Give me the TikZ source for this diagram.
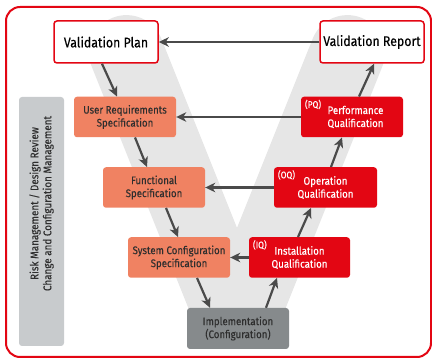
\documentclass[tikz,border=0pt]{standalone}
\usepackage{fontspec}
\setmainfont[FakeStretch=0.88,FakeBold=0.2]{Fira Sans}
\usetikzlibrary{arrows.meta,calc}
\definecolor{vred}{HTML}{E30613}
\definecolor{salmon}{HTML}{F08262}
\definecolor{implgray}{HTML}{868A8C}
\definecolor{sidegray}{HTML}{C8CBCD}
\definecolor{vband}{HTML}{E6E6E6}
\definecolor{arrowgray}{HTML}{4A4A4A}
\definecolor{txtdark}{HTML}{2E2E2E}
\begin{document}
\begin{tikzpicture}[x=1pt,y=-1pt,
  box/.style={rounded corners=3pt, inner sep=0pt, align=center, font=\fontsize{11}{13}\selectfont},
  whitebox/.style={box, draw=vred, line width=1.5pt, fill=white, font=\fontsize{14}{16}\selectfont, text=black, minimum width=104pt, minimum height=42pt},
  specbox/.style={box, fill=salmon, text=txtdark, minimum width=102pt, minimum height=40.5pt},
  qualbox/.style={box, fill=vred, text=white, minimum width=102pt, minimum height=40.5pt},
  implbox/.style={box, fill=implgray, text=txtdark, minimum width=102pt, minimum height=41pt},
  sidebox/.style={box, fill=sidegray, rotate=90, minimum width=249pt, minimum height=45pt},
  sidetext/.style={align=center, inner sep=0pt, text=txtdark, font=\fontsize{11.2}{13}\selectfont, rotate=90},
  tag/.style={font=\fontsize{9.5}{10}\selectfont, text=white, inner sep=0pt, anchor=north west},
  flow/.style={draw=arrowgray, line width=2.2pt, -{Stealth[length=10pt,width=9.5pt,inset=3pt]}},
]
\useasboundingbox (0,0) rectangle (432,358);
% V band
\begin{scope}
  \clip (0,0) rectangle (432,340);
  \draw[vband, line width=75pt, line cap=round, line join=miter, miter limit=10]
    (126.5,52.6) -- (237,328.75) -- (347.5,52.6);
\end{scope}
% frame
\draw[vred, line width=2pt, rounded corners=14pt] (6,7) rectangle (431,357);
% side box
\node[sidebox] (side) at (41.5,221.5) {};
\node[sidetext] (sidet) at ([yshift=18pt]side.center) {Risk Management / Design Review\\Change and Configuration Management};
% boxes
\node[whitebox] (vp) at (106,42) {Validation Plan};
\node[whitebox] (vr) at (372,42) {Validation Report};
\node[specbox] (urs) at (125,117) {User Requirements\\Specification};
\node[specbox] (fs) at (154,187.5) {Functional\\Specification};
\node[specbox] (scs) at (179,257.5) {System Configuration\\Specification};
\node[qualbox] (pq) at (352,117) {};
\node[box, text=white, inner sep=0pt] (pqt) at ([xshift=3.5pt]pq.center) {Performance\\Qualification};
\node[qualbox, minimum width=103pt] (oq) at (325.5,187.5) {Operation\\Qualification};
\node[qualbox, minimum width=101pt] (iq) at (299.5,257.5) {Installation\\Qualification};
\node[implbox] (impl) at (238,328.5) {Implementation\\(Configuration)};
\node[tag] (pqtag) at ([xshift=4pt,yshift=-3pt]pq.north west) {(PQ)};
\node[tag] (oqtag) at ([xshift=4pt,yshift=-3pt]oq.north west) {(OQ)};
\node[tag] (iqtag) at ([xshift=4pt,yshift=-3pt]iq.north west) {(IQ)};
% horizontal arrows
\draw[flow] (vr) -- (vp);
\draw[flow] (pq) -- (urs);
\draw[flow] (oq) -- (fs);
\draw[flow] (iq) -- (scs);
% left arm arrows
\draw[flow] ([xshift=-4pt]vp.south) -- ([xshift=-8pt]urs.north);
\draw[flow] ([xshift=10pt]urs.south) -- ([xshift=-7pt]fs.north);
\draw[flow] ([xshift=12pt]fs.south) -- ([xshift=-1pt]scs.north);
\draw[flow] ([xshift=18pt]scs.south) -- ([xshift=-28pt]impl.north);
% right arm arrows
\draw[flow] ([xshift=28pt]impl.north) -- ([xshift=-22.5pt]iq.south);
\draw[flow] ([xshift=-1.5pt]iq.north) -- ([xshift=-14.5pt]oq.south);
\draw[flow] ([xshift=5.5pt]oq.north) -- ([xshift=-10pt]pq.south);
\draw[flow] ([xshift=7pt]pq.north) -- ([xshift=2pt]vr.south);
\end{tikzpicture}
\end{document}
